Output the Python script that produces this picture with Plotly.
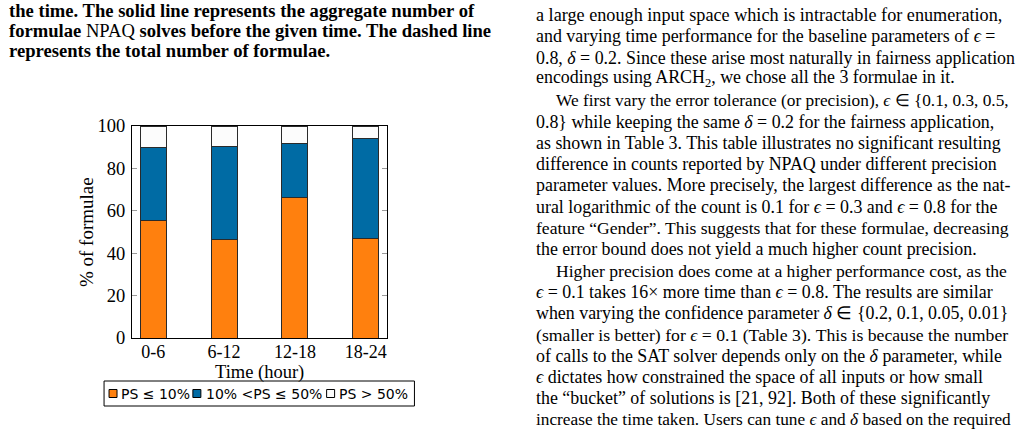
import plotly.graph_objects as go

# ---------------- data ----------------
categories = ["0-6", "6-12", "12-18", "18-24"]
series_names = ["PS ≤ 10%", "10% <PS ≤ 50%", "PS > 50%"]
ps_low = [55.2, 46.4, 66.5, 46.8]
ps_mid = [34.8, 44.0, 25.1, 47.2]
ps_high = [10.0, 9.6, 8.4, 6.0]
y_ticks = [0, 20, 40, 60, 80, 100]
x_title = "Time (hour)"
y_title = "% of formulae"

caption_lines = [
    "<b>the time. The solid line represents the aggregate number of</b>",
    "<b>formulae</b> NPAQ <b>solves before the given time. The dashed line</b>",
    "<b>represents the total number of formulae.</b>",
]
# (indented, font size, text)
body_lines = [
    (False, 18.2, "a large enough input space which is intractable for enumeration,"),
    (False, 17.9, "and varying time performance for the baseline parameters of <i>ϵ</i> ="),
    (False, 17.9, "0.8, <i>δ</i> = 0.2. Since these arise most naturally in fairness application"),
    (False, 17.9, "encodings using ARCH<sub>2</sub>, we chose all the 3 formulae in it."),
    (True, 17.3, "We first vary the error tolerance (or precision), <i>ϵ</i> ∈ {0.1, 0.3, 0.5,"),
    (False, 17.9, "0.8} while keeping the same <i>δ</i> = 0.2 for the fairness application,"),
    (False, 17.9, "as shown in Table 3. This table illustrates no significant resulting"),
    (False, 17.9, "difference in counts reported by NPAQ under different precision"),
    (False, 17.9, "parameter values. More precisely, the largest difference as the nat-"),
    (False, 17.9, "ural logarithmic of the count is 0.1 for <i>ϵ</i> = 0.3 and <i>ϵ</i> = 0.8 for the"),
    (False, 17.6, "feature “Gender”. This suggests that for these formulae, decreasing"),
    (False, 17.9, "the error bound does not yield a much higher count precision."),
    (True, 17.6, "Higher precision does come at a higher performance cost, as the"),
    (False, 17.9, "<i>ϵ</i> = 0.1 takes 16× more time than <i>ϵ</i> = 0.8. The results are similar"),
    (False, 17.9, "when varying the confidence parameter <i>δ</i> ∈ {0.2, 0.1, 0.05, 0.01}"),
    (False, 17.7, "(smaller is better) for <i>ϵ</i> = 0.1 (Table 3). This is because the number"),
    (False, 17.9, "of calls to the SAT solver depends only on the <i>δ</i> parameter, while"),
    (False, 17.9, "<i>ϵ</i> dictates how constrained the space of all inputs or how small"),
    (False, 17.9, "the “bucket” of solutions is [21, 92]. Both of these significantly"),
    (False, 17.3, "increase the time taken. Users can tune <i>ϵ</i> and <i>δ</i> based on the required"),
]

# ---------------- styling ----------------
W, H = 1024, 433
PL, PR, PT, PB = 132, 387.5, 126, 338  # plot area in pixels
colors = ["#FF800E", "#006BA4", "#FCFCFC"]
serif = "Liberation Serif"
sans = "DejaVu Sans"


def px(x):
    return (x - PL) / (PR - PL)


def py(y):
    return (PB - y) / (PB - PT)


fig = go.Figure()
for name, vals, col in zip(series_names, [ps_low, ps_mid, ps_high], colors):
    fig.add_trace(go.Bar(
        x=categories, y=vals, name=name, width=0.366,
        marker=dict(color=col, line=dict(color="#2a2a2a", width=1)),
        showlegend=False,
    ))

annotations = []
shapes = []

# caption (left column, top)
for i, t in enumerate(caption_lines):
    annotations.append(dict(
        x=px(7), y=py(10.5 + i * 20.0), xref="paper", yref="paper",
        xanchor="left", yanchor="middle", showarrow=False, text=t,
        font=dict(family=serif, size=18.6, color="black"),
    ))

# right column body text
for i, (indent, fs, t) in enumerate(body_lines):
    annotations.append(dict(
        x=px(555 if indent else 535), y=py(15 + i * 21.3), xref="paper", yref="paper",
        xanchor="left", yanchor="middle", showarrow=False, text=t,
        font=dict(family=serif, size=fs, color="black"),
    ))

# manual legend box
shapes.append(dict(type="rect", xref="paper", yref="paper",
                   x0=px(104), x1=px(415), y0=py(381), y1=py(406),
                   line=dict(color="black", width=1), fillcolor="white"))
leg_sq = [109, 193, 327]
leg_tx = [119, 204, 337]
for name, col, sx, tx in zip(series_names, colors, leg_sq, leg_tx):
    shapes.append(dict(type="rect", xref="paper", yref="paper",
                       x0=px(sx), x1=px(sx + 8), y0=py(389.5), y1=py(397.5),
                       line=dict(color="black", width=1), fillcolor=col))
    annotations.append(dict(
        x=px(tx), y=py(393.5), xref="paper", yref="paper",
        xanchor="left", yanchor="middle", showarrow=False, text=name,
        font=dict(family=sans, size=14, color="black"),
    ))

# axis titles
annotations.append(dict(
    x=px(86), y=py(232), xref="paper", yref="paper", textangle=-90,
    xanchor="center", yanchor="middle", showarrow=False, text=y_title,
    font=dict(family=serif, size=19, color="black"),
))
annotations.append(dict(
    x=0.5, y=py(372), xref="paper", yref="paper",
    xanchor="center", yanchor="middle", showarrow=False, text=x_title,
    font=dict(family=serif, size=18.5, color="black"),
))

fig.update_layout(
    width=W, height=H, autosize=False,
    margin=dict(l=PL, r=W - PR, t=PT, b=H - PB, pad=0),
    paper_bgcolor="white", plot_bgcolor="white",
    barmode="stack",
    showlegend=False,
    annotations=annotations,
    shapes=shapes,
    font=dict(family=serif, size=16, color="black"),
)
fig.update_xaxes(
    type="category", range=[-0.3, 3.3],
    showline=True, linecolor="black", linewidth=1, mirror=True,
    ticks="", showgrid=False, zeroline=False,
    tickfont=dict(family=serif, size=18, color="black"),
    ticklabelstandoff=-3,
)
fig.update_yaxes(
    range=[0, 100], tickvals=y_ticks,
    showline=True, linecolor="black", linewidth=1, mirror="ticks",
    ticks="inside", ticklen=5, tickcolor="#9a9a9a", tickwidth=1,
    showgrid=False, zeroline=False,
    tickfont=dict(family=serif, size=18.5, color="black"),
    ticklabelstandoff=2,
)

fig.write_html("out.html")
